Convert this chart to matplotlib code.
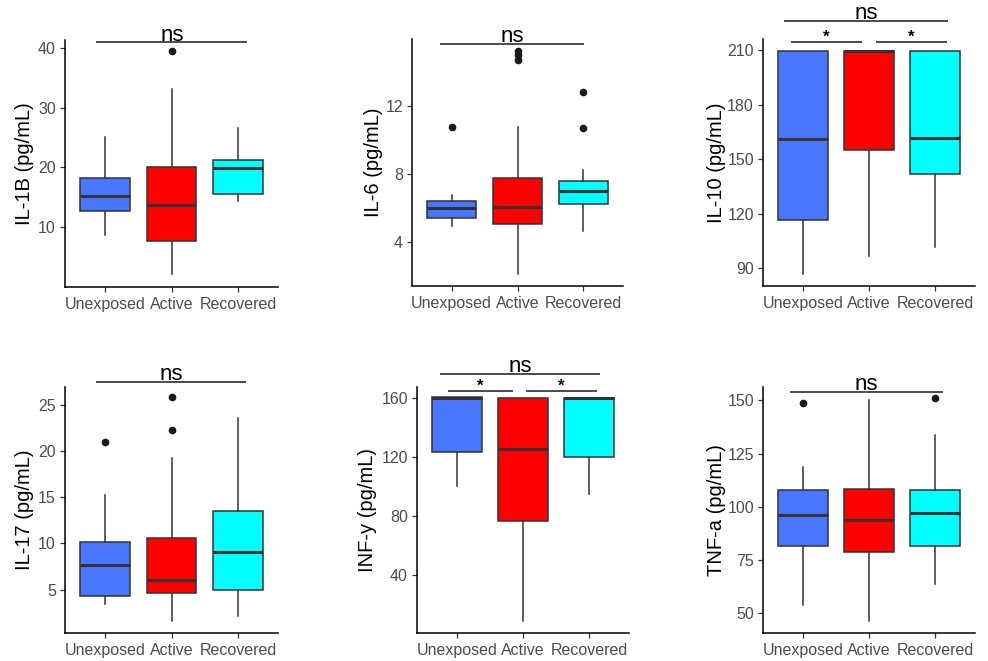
import matplotlib
matplotlib.use("Agg")
import matplotlib.pyplot as plt

plt.rcParams['font.family'] = ['Liberation Sans', 'DejaVu Sans']

# ---------------- data ----------------
groups = ["Unexposed", "Active", "Recovered"]
fill_colors = ["#4876FF", "#FF0000", "#00FFFF"]

# five-number summaries per group: [whisker low, Q1, median, Q3, whisker high]
il1b_stats = [[8.7, 12.7, 15.2, 18.3, 25.0],
              [2.2, 7.7, 13.7, 20.0, 33.1],
              [14.4, 15.5, 19.9, 21.2, 26.6]]
il1b_out = [[], [39.4], []]

il6_stats = [[4.96, 5.45, 6.02, 6.43, 6.76],
             [2.15, 5.06, 6.09, 7.80, 10.79],
             [4.67, 6.27, 7.01, 7.60, 8.25]]
il6_out = [[10.79], [15.22, 15.0, 14.7], [12.84, 10.71]]

il10_stats = [[86.8, 116.6, 161.1, 209.5, 209.5],
              [96.8, 155.1, 209.5, 209.5, 209.5],
              [101.9, 141.8, 161.5, 209.5, 209.5]]
il10_out = [[], [], []]

il17_stats = [[3.49, 4.28, 7.70, 10.15, 15.27],
              [1.58, 4.68, 6.05, 10.59, 19.23],
              [2.12, 5.00, 9.11, 13.54, 23.56]]
il17_out = [[21.0], [25.8, 22.26], []]

infy_stats = [[100.3, 123.3, 160.0, 160.2, 160.2],
              [8.9, 76.9, 125.3, 160.0, 160.0],
              [94.9, 119.9, 160.0, 160.1, 160.1]]
infy_out = [[], [], []]

tnfa_stats = [[53.9, 81.7, 96.1, 107.8, 118.5],
              [46.1, 78.5, 93.6, 108.5, 150.3],
              [63.6, 81.7, 97.2, 107.8, 133.7]]
tnfa_out = [[148.9], [], [151.3]]

ylabels = ["IL-1B (pg/mL)", "IL-6 (pg/mL)", "IL-10 (pg/mL)",
           "IL-17 (pg/mL)", "INF-y (pg/mL)", "TNF-a (pg/mL)"]

il1b_ticks = [10, 20, 30, 40]
il6_ticks = [4, 8, 12]
il10_ticks = [90, 120, 150, 180, 210]
il17_ticks = [5, 10, 15, 20, 25]
infy_ticks = [40, 80, 120, 160]
tnfa_ticks = [50, 75, 100, 125, 150]

# significance annotations: (x start, x end, y, label)
il1b_sig = [(0.87, 3.14, 40.9, "ns")]
il6_sig = [(0.82, 3.01, 15.65, "ns")]
il10_sig = [(0.72, 3.19, 226.4, "ns"), (0.83, 1.89, 214.6, "*"), (2.11, 3.17, 214.6, "*")]
il17_sig = [(0.87, 3.12, 27.45, "ns")]
infy_sig = [(0.75, 3.16, 176.2, "ns"), (0.87, 1.85, 164.5, "*"), (2.04, 3.12, 164.5, "*")]
tnfa_sig = [(0.81, 3.11, 153.9, "ns")]

# ---------------- layout ----------------
W, H = 988, 661
fig = plt.figure(figsize=(W / 100, H / 100), dpi=100)

# pixel boxes: (left, top, right, bottom), y-limits, y-label offset (px)
layout = [
    ((65, 40, 278, 287), (0.0, 41.3), -40),
    ((412, 39, 623, 286), (1.44, 15.93), -39),
    ((763, 39, 975, 286), (80.2, 216.3), -47),
    ((65, 387, 278, 633), (0.32, 26.9), -40),
    ((417, 387, 629, 633), (1.0, 167.2), -50),
    ((763, 387, 975, 633), (40.6, 156.3), -47),
]

panels = [
    (il1b_stats, il1b_out, il1b_ticks, il1b_sig),
    (il6_stats, il6_out, il6_ticks, il6_sig),
    (il10_stats, il10_out, il10_ticks, il10_sig),
    (il17_stats, il17_out, il17_ticks, il17_sig),
    (infy_stats, infy_out, infy_ticks, infy_sig),
    (tnfa_stats, tnfa_out, tnfa_ticks, tnfa_sig),
]

edge = "#333333"
for (stats, outs, ticks, sigs), ylab, (box, ylim, lab_dx) in zip(panels, ylabels, layout):
    l, t, r, b = box
    ax = fig.add_axes([l / W, 1 - b / H, (r - l) / W, (b - t) / H])
    bstats = [dict(whislo=s[0], q1=s[1], med=s[2], q3=s[3], whishi=s[4],
                   fliers=o, label=g) for s, o, g in zip(stats, outs, groups)]
    bp = ax.bxp(bstats, positions=[1, 2, 3], widths=0.75, patch_artist=True,
                showcaps=False,
                boxprops=dict(edgecolor=edge, linewidth=1.1),
                medianprops=dict(color=edge, linewidth=2.2, solid_capstyle='butt'),
                whiskerprops=dict(color=edge, linewidth=1.1),
                flierprops=dict(marker='o', markerfacecolor='#1a1a1a',
                                markeredgecolor='#1a1a1a', markersize=4.5))
    for patch, c in zip(bp['boxes'], fill_colors):
        patch.set_facecolor(c)
    ax.set_xlim(0.4, 3.6)
    ax.set_ylim(*ylim)
    ax.set_yticks(ticks)
    ax.set_xticks([1, 2, 3])
    ax.set_xticklabels(groups)
    for sp in ("top", "right"):
        ax.spines[sp].set_visible(False)
    for sp in ("left", "bottom"):
        ax.spines[sp].set_linewidth(1.1)
        ax.spines[sp].set_color("#000000")
    ax.tick_params(axis='both', length=3.5, width=0.9, color=edge,
                   labelcolor="#4D4D4D", labelsize=11.5, pad=3)
    ax.tick_params(axis='x', pad=4)
    ax.set_ylabel(ylab, fontsize=14.5, color="#000000")
    ax.yaxis.label.set_va('center')
    ax.yaxis.set_label_coords(lab_dx / (r - l), 0.5)
    for x0, x1, y, lab in sigs:
        ax.plot([x0, x1], [y, y], color="#1a1a1a", lw=1.1, clip_on=False,
                solid_capstyle='butt')
        if lab == "ns":
            ax.annotate(lab, xy=((x0 + x1) / 2, y), xytext=(0, 1.2),
                        textcoords='offset points', ha='center', va='baseline',
                        fontsize=16,
                        family=['Liberation Sans Narrow', 'Liberation Sans', 'DejaVu Sans'],
                        annotation_clip=False)
        else:
            ax.annotate(lab, xy=((x0 + x1) / 2, y), xytext=(0, 0),
                        textcoords='offset points', ha='center', va='baseline',
                        fontsize=12, fontweight='bold', annotation_clip=False)

fig.savefig("out.png", dpi=100)
